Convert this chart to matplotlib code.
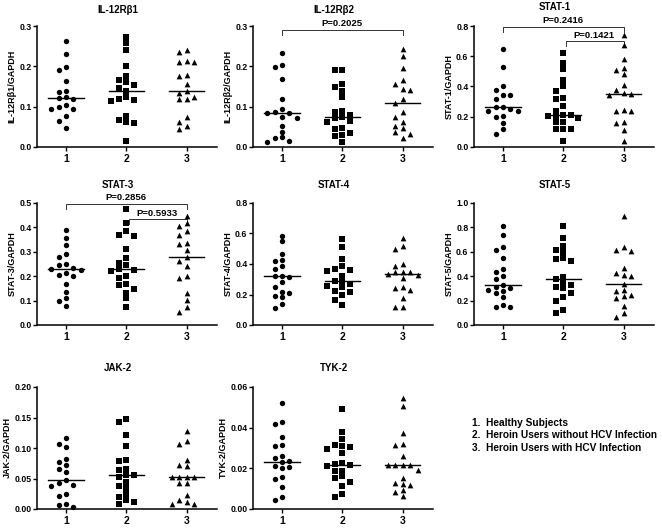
import numpy as np
import matplotlib
matplotlib.use('Agg')
import matplotlib.pyplot as plt

plt.rcParams['font.family'] = ['Liberation Sans', 'DejaVu Sans']
plt.rcParams['font.weight'] = 'bold'

# group values (1 = healthy, 2 = heroin no HCV, 3 = heroin HCV)
il12rb1_g1 = [0.264, 0.231, 0.198, 0.190, 0.163, 0.140, 0.136, 0.123, 0.121, 0.118, 0.103, 0.100, 0.093, 0.093, 0.077, 0.065, 0.046]
il12rb1_g2 = [0.272, 0.257, 0.240, 0.200, 0.176, 0.167, 0.160, 0.154, 0.147, 0.140, 0.124, 0.118, 0.116, 0.115, 0.077, 0.067, 0.061, 0.060, 0.015]
il12rb1_g3 = [0.240, 0.235, 0.213, 0.210, 0.210, 0.178, 0.175, 0.155, 0.138, 0.133, 0.125, 0.118, 0.118, 0.075, 0.063, 0.052, 0.045]

il12rb2_g1 = [0.232, 0.203, 0.198, 0.168, 0.120, 0.093, 0.086, 0.085, 0.084, 0.074, 0.073, 0.052, 0.038, 0.024, 0.022, 0.016, 0.013]
il12rb2_g2 = [0.192, 0.190, 0.155, 0.149, 0.140, 0.123, 0.090, 0.086, 0.080, 0.074, 0.072, 0.065, 0.062, 0.047, 0.045, 0.034, 0.029, 0.027, 0.012]
il12rb2_g3 = [0.243, 0.225, 0.195, 0.165, 0.155, 0.143, 0.142, 0.118, 0.109, 0.087, 0.075, 0.062, 0.052, 0.046, 0.037, 0.033, 0.022]

stat1_g1 = [0.645, 0.530, 0.400, 0.378, 0.345, 0.343, 0.318, 0.265, 0.263, 0.248, 0.240, 0.237, 0.205, 0.200, 0.160, 0.120, 0.085]
stat1_g2 = [0.623, 0.555, 0.518, 0.440, 0.400, 0.368, 0.324, 0.320, 0.269, 0.238, 0.212, 0.210, 0.205, 0.200, 0.190, 0.165, 0.163, 0.120, 0.118, 0.118, 0.040]
stat1_g3 = [0.742, 0.672, 0.584, 0.522, 0.507, 0.485, 0.407, 0.374, 0.355, 0.350, 0.341, 0.242, 0.240, 0.235, 0.165, 0.161, 0.110, 0.040]

stat3_g1 = [0.390, 0.356, 0.329, 0.290, 0.278, 0.249, 0.247, 0.232, 0.229, 0.227, 0.215, 0.205, 0.200, 0.167, 0.137, 0.112, 0.100, 0.078]
stat3_g2 = [0.475, 0.418, 0.384, 0.370, 0.366, 0.312, 0.274, 0.256, 0.244, 0.230, 0.226, 0.222, 0.201, 0.192, 0.168, 0.164, 0.147, 0.133, 0.110, 0.075]
stat3_g3 = [0.448, 0.418, 0.404, 0.384, 0.370, 0.338, 0.333, 0.308, 0.278, 0.264, 0.240, 0.201, 0.192, 0.130, 0.103, 0.075, 0.055]

stat4_g1 = [0.585, 0.548, 0.467, 0.428, 0.417, 0.384, 0.368, 0.322, 0.320, 0.318, 0.281, 0.248, 0.219, 0.213, 0.191, 0.182, 0.138, 0.110]
stat4_g2 = [0.564, 0.511, 0.432, 0.388, 0.368, 0.362, 0.357, 0.322, 0.289, 0.285, 0.270, 0.257, 0.248, 0.220, 0.218, 0.197, 0.164, 0.132]
stat4_g3 = [0.570, 0.515, 0.498, 0.399, 0.390, 0.349, 0.347, 0.345, 0.333, 0.325, 0.311, 0.252, 0.241, 0.230, 0.175, 0.120, 0.116]

stat5_g1 = [0.814, 0.740, 0.638, 0.616, 0.548, 0.458, 0.433, 0.403, 0.375, 0.329, 0.315, 0.300, 0.288, 0.280, 0.266, 0.233, 0.164, 0.145, 0.145]
stat5_g2 = [0.814, 0.712, 0.644, 0.611, 0.597, 0.548, 0.542, 0.521, 0.397, 0.375, 0.348, 0.329, 0.310, 0.301, 0.266, 0.227, 0.200, 0.123, 0.101]
stat5_g3 = [0.890, 0.638, 0.616, 0.610, 0.466, 0.430, 0.411, 0.405, 0.340, 0.288, 0.282, 0.247, 0.238, 0.219, 0.156, 0.096, 0.068]

jak2_g1 = [0.116, 0.107, 0.102, 0.082, 0.077, 0.072, 0.065, 0.060, 0.047, 0.043, 0.040, 0.038, 0.025, 0.021, 0.009, 0.006, 0.003]
jak2_g2 = [0.148, 0.143, 0.121, 0.103, 0.081, 0.078, 0.066, 0.064, 0.056, 0.055, 0.052, 0.045, 0.037, 0.035, 0.025, 0.020, 0.015, 0.012, 0.008]
jak2_g3 = [0.128, 0.111, 0.107, 0.081, 0.072, 0.071, 0.053, 0.053, 0.052, 0.052, 0.043, 0.042, 0.023, 0.015, 0.012, 0.009, 0.008]

tyk2_g1 = [0.0520, 0.0430, 0.0420, 0.0353, 0.0314, 0.0310, 0.0260, 0.0250, 0.0235, 0.0230, 0.0210, 0.0205, 0.0200, 0.0158, 0.0148, 0.0108, 0.0058, 0.0046]
tyk2_g2 = [0.0493, 0.0378, 0.0342, 0.0317, 0.0312, 0.0306, 0.0296, 0.0273, 0.0227, 0.0219, 0.0218, 0.0212, 0.0189, 0.0185, 0.0160, 0.0153, 0.0133, 0.0115, 0.0076, 0.0058]
tyk2_g3 = [0.0547, 0.0506, 0.0372, 0.0320, 0.0314, 0.0263, 0.0216, 0.0215, 0.0215, 0.0214, 0.0190, 0.0153, 0.0128, 0.0125, 0.0117, 0.0095, 0.0082, 0.0066]

titles = ['IL-12R\u03b21', 'IL-12R\u03b22', 'STAT-1', 'STAT-3', 'STAT-4', 'STAT-5', 'JAK-2', 'TYK-2']
ylabels = ['IL-12R\u03b21/GAPDH', 'IL-12R\u03b22/GAPDH', 'STAT-1/GAPDH', 'STAT-3/GAPDH',
           'STAT-4/GAPDH', 'STAT-5/GAPDH', 'JAK-2/GAPDH', 'TYK-2/GAPDH']
groups = [
    [il12rb1_g1, il12rb1_g2, il12rb1_g3],
    [il12rb2_g1, il12rb2_g2, il12rb2_g3],
    [stat1_g1, stat1_g2, stat1_g3],
    [stat3_g1, stat3_g2, stat3_g3],
    [stat4_g1, stat4_g2, stat4_g3],
    [stat5_g1, stat5_g2, stat5_g3],
    [jak2_g1, jak2_g2, jak2_g3],
    [tyk2_g1, tyk2_g2, tyk2_g3],
]
ymax = [0.3, 0.3, 0.8, 0.5, 0.8, 1.0, 0.20, 0.06]
ystep = [0.1, 0.1, 0.2, 0.1, 0.2, 0.2, 0.05, 0.02]
ydec = [1, 1, 1, 1, 1, 1, 2, 2]
# p-value brackets: (panel, from group, to group, bracket height, p label)
pvals = [(1, 1, 3, 0.291, 'P=0.2025'),
         (2, 1, 3, 0.795, 'P=0.2416'), (2, 2, 3, 0.700, 'P=0.1421'),
         (3, 1, 3, 0.497, 'P=0.2856'), (3, 2, 3, 0.434, 'P=0.5933')]
legend_lines = ['1.  Healthy Subjects', '2.  Heroin Users without HCV Infection',
                '3.  Heroin Users with HCV Infection']
markers = ['o', 's', '^']


def beeswarm(vals, ytop, step=0.124, gap=0.046):
    # simple column swarm: put each point in the nearest free column
    order = np.argsort(vals)[::-1]
    placed = []
    xs = np.zeros(len(vals))
    for i in order:
        v = vals[i] / ytop
        for k in [0, -1, 1, -2, 2, -3, 3, -4, 4]:
            if all(not (c == k and abs(v - p) < gap) for c, p in placed):
                placed.append((k, v))
                xs[i] = k * step
                break
    return xs


W, H = 662, 528
PX = 0.72  # points per pixel
fig = plt.figure(figsize=(W / 100, H / 100), dpi=100)
cols = [37, 253, 474]
rows = [(26, 147), (203, 325), (387, 509)]
aw = 180
title_up = [16, 16, 19, 18, 18, 18, 19, 19]

for n in range(8):
    r, c = divmod(n, 3)
    top, bot = rows[r]
    ax = fig.add_axes([cols[c] / W, 1 - bot / H, aw / W, (bot - top) / H])
    for g, vals in enumerate(groups[n]):
        vals = np.array(vals)
        xs = beeswarm(vals, ymax[n]) + g + 1
        ax.scatter(xs, vals, marker=markers[g], s=[15, 13, 17][g], c='black',
                   linewidths=0, zorder=3, clip_on=False)
        med = np.median(vals)
        ax.plot([g + 1 - 0.29, g + 1 + 0.29], [med, med], color='black', lw=1.0, zorder=2)
    ax.set_xlim(0.52, 3.5)
    ax.set_ylim(0, ymax[n])
    ax.set_xticks([1, 2, 3])
    ax.set_xticklabels(['1', '2', '3'], fontsize=7.5, fontweight='bold')
    ticks = np.arange(0, ymax[n] + ystep[n] / 2, ystep[n])
    ax.set_yticks(ticks)
    ax.set_yticklabels(['%.*f' % (ydec[n], t) for t in ticks], fontsize=6.3, fontweight='bold')
    ax.tick_params(axis='y', length=3, width=1.0, pad=1)
    ax.tick_params(axis='x', length=3, width=1.0, pad=2)
    for s in ['top', 'right']:
        ax.spines[s].set_visible(False)
    for s in ['left', 'bottom']:
        ax.spines[s].set_linewidth(1.1)
    ax.set_ylabel(ylabels[n], fontsize=6.5, fontweight='bold', labelpad=2)
    ax.annotate(titles[n], xy=(0.45, 1), xycoords='axes fraction',
                xytext=(0, title_up[n] * PX), textcoords='offset points',
                ha='center', va='center', fontsize=7, fontweight='bold')

    for (pn, a, b, yb, lab) in pvals:
        if pn != n:
            continue
        x0 = a if a == 1 else a + 0.04
        drop = ymax[n] * 5 / 121
        ax.plot([x0, x0, b, b], [yb - drop, yb, yb, yb - drop],
                color='#333333', lw=0.7, clip_on=False)
        ax.annotate(lab, xy=((a + b) / 2, yb), xytext=(0, 6 * PX), textcoords='offset points',
                    ha='center', va='center', fontsize=6.8, fontweight='bold')

for i, line in enumerate(legend_lines):
    fig.text(472 / W, 1 - (423 + i * 12.5) / H, line, fontsize=7.3, fontweight='bold',
             ha='left', va='center')

fig.savefig('out.png', dpi=100)
